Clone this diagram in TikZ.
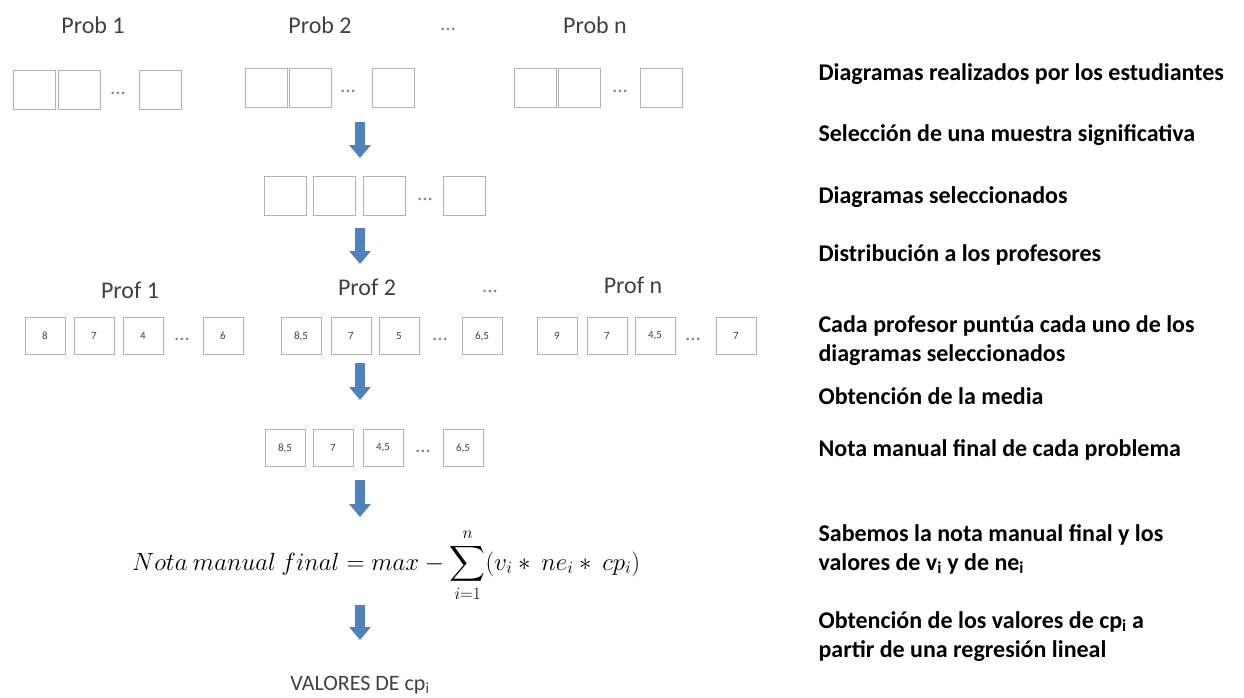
\documentclass[tikz,border=0pt]{standalone}
\usepackage{exscale}
\usepackage{fontspec}
\setmainfont{Carlito}
\usetikzlibrary{arrows.meta}
\definecolor{azul}{RGB}{79,129,189}
\definecolor{gristexto}{RGB}{64,64,64}
\tikzset{
  caja/.style={draw=gray!60, line width=0.9pt, minimum width=42pt, minimum height=39pt, inner sep=0pt},
  nota/.style={caja, minimum width=40pt, minimum height=37pt, text=gristexto, font=\fontsize{11}{13}\selectfont},
  puntos/.style={text=gray, font=\fontsize{21}{24}\selectfont},
  titulo/.style={text=gristexto, font=\fontsize{24}{28}\selectfont},
  paso/.style={anchor=base west, align=left, font=\bfseries\fontsize{24}{29}\selectfont},
  flecha/.style={draw=azul, line width=10pt, -{Triangle[width=21pt,length=13pt]}}
}
\begin{document}
\begin{tikzpicture}[x=1pt,y=-1pt]
            \useasboundingbox (0,0) rectangle (1244,698);

            \node[titulo] (prob1) at (93,25) {Prob 1};
            \node[titulo] (prob2) at (320,25) {Prob 2};
            \node[puntos] (probdots) at (448,29) {...};
            \node[titulo] (probn) at (595,25) {Prob n};

            \node[caja] (pa1) at (34,90) {};
            \node[caja] (pa2) at (79,90) {};
            \node[puntos] (pad) at (118,93) {...};
            \node[caja] (pa3) at (160,90) {};
            \node[caja] (pb1) at (266,88) {};
            \node[caja] (pb2) at (310,88) {};
            \node[puntos] (pbd) at (348,91) {...};
            \node[caja] (pb3) at (393,88) {};
            \node[caja] (pn1) at (535,88) {};
            \node[caja] (pn2) at (579,88) {};
            \node[puntos] (pnd) at (620,91) {...};
            \node[caja] (pn3) at (661,88) {};

            \node[caja] (s1) at (285,196) {};
            \node[caja] (s2) at (334,196) {};
            \node[caja] (s3) at (384,196) {};
            \node[puntos] (sd) at (425,199) {...};
            \node[caja] (s4) at (464,196) {};

            \node[titulo] (prof1) at (130,290) {Prof 1};
            \node[titulo] (prof2) at (367,287) {Prof 2};
            \node[puntos] (profdots) at (490,291) {...};
            \node[titulo] (profn) at (633,285) {Prof n};

            \node[nota] (qa1) at (45,336) {8};
            \node[nota] (qa2) at (94,336) {7};
            \node[nota] (qa3) at (143,336) {4};
            \node[puntos] (qad) at (182,339) {...};
            \node[nota] (qa4) at (223,336) {6};
            \node[nota] (qb1) at (301,336) {8,5};
            \node[nota] (qb2) at (351,336) {7};
            \node[nota] (qb3) at (399,336) {5};
            \node[puntos] (qbd) at (440,339) {...};
            \node[nota] (qb4) at (482,336) {6,5};
            \node[nota] (qn1) at (557,336) {9};
            \node[nota] (qn2) at (607,336) {7};
            \node[nota] (qn3) at (655,336) {4,5};
            \node[puntos] (qnd) at (693,339) {...};
            \node[nota] (qn4) at (736,336) {7};

            \node[nota] (m1) at (285,448) {8,5};
            \node[nota] (m2) at (333,448) {7};
            \node[nota] (m3) at (383,448) {4,5};
            \node[puntos] (md) at (423,451) {...};
            \node[nota] (m4) at (463,448) {6,5};

            \node[anchor=base west, inner sep=0pt, font=\fontsize{24}{28}\selectfont] (formula) at (132,570)
              {$\displaystyle Nota\ manual\ final = max - \sum_{i=1}^{n}(v_i \ast\ ne_i \ast\ cp_i)$};

            \node[anchor=base, inner sep=1pt, text=gristexto, font=\fontsize{22}{26}\selectfont] (valores) at (360,690) {VALORES DE cp\textsubscript{i}};

            \coordinate (f1a) at (360,122); \coordinate (f1b) at (360,158);
            \coordinate (f2a) at (360,228); \coordinate (f2b) at (360,264);
            \coordinate (f3a) at (360,363); \coordinate (f3b) at (360,400);
            \coordinate (f4a) at (360,480); \coordinate (f4b) at (360,517);
            \coordinate (f5a) at (360,605); \coordinate (f5b) at (360,640);
            \draw[flecha] (f1a) -- (f1b);
            \draw[flecha] (f2a) -- (f2b);
            \draw[flecha] (f3a) -- (f3b);
            \draw[flecha] (f4a) -- (f4b);
            \draw[flecha] (f5a) -- (f5b);

            \node[paso] (t1) at (815,81) {Diagramas realizados por los estudiantes};
            \node[paso] (t2) at (815,141) {Selección de una muestra significativa};
            \node[paso] (t3) at (815,203) {Diagramas seleccionados};
            \node[paso] (t4) at (815,261) {Distribución a los profesores};
            \node[paso] (t5) at (815,361) {Cada profesor puntúa cada uno de los\\diagramas seleccionados};
            \node[paso] (t6) at (815,404) {Obtención de la media};
            \node[paso] (t7) at (815,456) {Nota manual final de cada problema};
            \node[paso] (t8) at (815,570) {Sabemos la nota manual final y los\\valores de v\textsubscript{i} y de ne\textsubscript{i}};
            \node[paso] (t9) at (815,657) {Obtención de los valores de cp\textsubscript{i} a\\partir de una regresión lineal};

        \end{tikzpicture}
\end{document}
